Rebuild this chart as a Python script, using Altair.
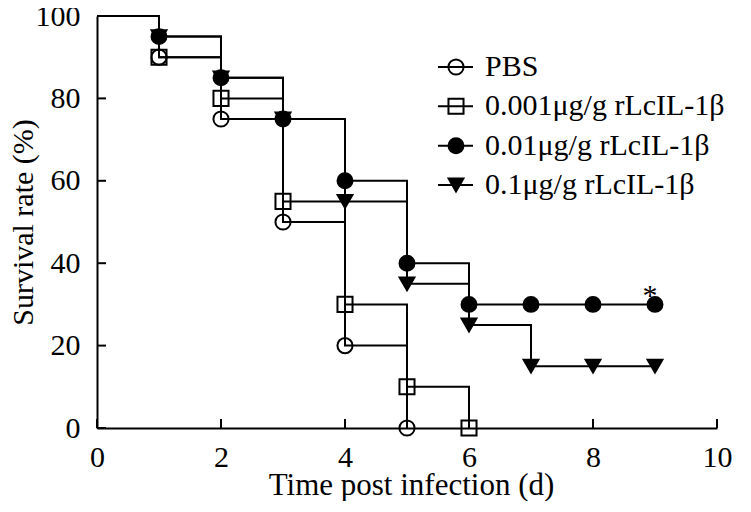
import altair as alt
import pandas as pd

# ---- data ----
series = ["PBS", "0.001μg/g rLcIL-1β", "0.01μg/g rLcIL-1β", "0.1μg/g rLcIL-1β"]
days = [0, 1, 2, 3, 4, 5, 6, 7, 8, 9]
pbs = [100, 90, 75, 50, 20, 0]
dose_0001 = [100, 90, 80, 55, 30, 10, 0]
dose_001 = [100, 95, 85, 75, 60, 40, 30, 30, 30, 30]
dose_01 = [100, 95, 85, 75, 55, 35, 25, 15, 15, 15]
x_ticks = [0, 2, 4, 6, 8, 10]
y_ticks = [0, 20, 40, 60, 80, 100]
star_day = [9]
star_value = [30]
star_label = ["*"]

shapes = ["circle", "square", "circle", "triangle-down"]
fills = ["transparent", "transparent", "black", "black"]
sizes = [230, 220, 230, 260]

rows = []
for name, vals in zip(series, [pbs, dose_0001, dose_001, dose_01]):
    for d, v in zip(days, vals):
        rows.append({"series": name, "day": d, "value": v, "order": series.index(name)})
df = pd.DataFrame(rows)
df_pts = df[df["day"] >= 1]
df_xt = pd.DataFrame({"v": x_ticks})
df_yt = pd.DataFrame({"v": y_ticks})
df_star = pd.DataFrame({"day": star_day, "value": star_value, "t": star_label})
df_leg = pd.DataFrame({"series": series})

FONT = "Liberation Serif"
W, H = 620, 412

xscale = alt.Scale(domain=[0, 10], nice=False, zero=False)
yscale = alt.Scale(domain=[0, 100], nice=False)
shape_scale = alt.Scale(domain=series, range=shapes)
fill_scale = alt.Scale(domain=series, range=fills)
size_scale = alt.Scale(domain=series, range=sizes)

xaxis = alt.Axis(values=x_ticks, format="d", ticks=False, tickSize=0, grid=False,
                 domainColor="black", domainWidth=2, labelFont=FONT, labelFontSize=30,
                 labelColor="black", labelPadding=14, labelFlush=False,
                 title="Time post infection (d)", titleFont=FONT, titleFontSize=31,
                 titleFontWeight="normal", titleColor="black", titleBaseline="alphabetic",
                 titleY=66, titleX=W / 2 + 4, titleAlign="center")
yaxis = alt.Axis(values=y_ticks, format="d", ticks=False, tickSize=0, grid=False,
                 domainColor="black", domainWidth=2, labelFont=FONT, labelFontSize=30,
                 labelColor="black", labelPadding=17, labelFlush=False,
                 title="Survival rate (%)", titleFont=FONT, titleFontSize=30,
                 titleFontWeight="normal", titleColor="black", titleAngle=-90,
                 titleBaseline="alphabetic", titleAlign="center", titleX=-65, titleY=H / 2)

lines = alt.Chart(df).mark_line(interpolate="step-after", color="black", strokeWidth=2).encode(
    x=alt.X("day:Q", scale=xscale, axis=xaxis),
    y=alt.Y("value:Q", scale=yscale, axis=yaxis),
    detail="series:N",
)

points = alt.Chart(df_pts).mark_point(stroke="black", strokeWidth=2, opacity=1).encode(
    x=alt.X("day:Q", scale=xscale),
    y=alt.Y("value:Q", scale=yscale),
    shape=alt.Shape("series:N", scale=shape_scale, legend=None),
    fill=alt.Fill("series:N", scale=fill_scale, legend=None),
    size=alt.Size("series:N", scale=size_scale, legend=None),
    order=alt.Order("order:Q"),
)

xt = alt.Chart(df_xt).mark_rule(color="black", strokeWidth=2).encode(
    x=alt.X("v:Q", scale=xscale), y=alt.value(H), y2=alt.value(H - 9)
)
yt = alt.Chart(df_yt).mark_rule(color="black", strokeWidth=2).encode(
    y=alt.Y("v:Q", scale=yscale), x=alt.value(0), x2=alt.value(9)
)

star = alt.Chart(df_star).mark_text(font=FONT, fontSize=30, baseline="alphabetic",
                                    align="center", dx=-5, dy=1, color="black").encode(
    x=alt.X("day:Q", scale=xscale), y=alt.Y("value:Q", scale=yscale), text="t:N"
)

main = alt.layer(lines, xt, yt, points, star)

lscale = alt.Scale(type="point", domain=series, range=[51, 169], padding=0)
leg_rule = alt.Chart(df_leg).mark_rule(color="black", strokeWidth=2).encode(
    x=alt.value(341), x2=alt.value(376), y=alt.Y("series:N", scale=lscale, axis=None)
)
leg_pts = alt.Chart(df_leg).mark_point(stroke="black", strokeWidth=2, opacity=1).encode(
    x=alt.value(359),
    y=alt.Y("series:N", scale=lscale, axis=None),
    shape=alt.Shape("series:N", scale=shape_scale, legend=None),
    fill=alt.Fill("series:N", scale=fill_scale, legend=None),
    size=alt.Size("series:N", scale=size_scale, legend=None),
)
leg_txt = alt.Chart(df_leg).mark_text(font=FONT, fontSize=30, align="left", baseline="middle",
                                      color="black").encode(
    x=alt.value(388), y=alt.Y("series:N", scale=lscale, axis=None), text="series:N"
)
legend = alt.layer(leg_rule, leg_pts, leg_txt)

chart = alt.layer(main, legend).resolve_scale(y="independent").properties(
    width=W, height=H, autosize="none",
    padding={"left": 89, "top": 8, "right": 20, "bottom": 73},
).configure(font=FONT).configure_axis(labelFont=FONT, titleFont=FONT).configure_view(stroke=None)

chart.save("out.html", embed_options={"renderer": "svg", "actions": False})
